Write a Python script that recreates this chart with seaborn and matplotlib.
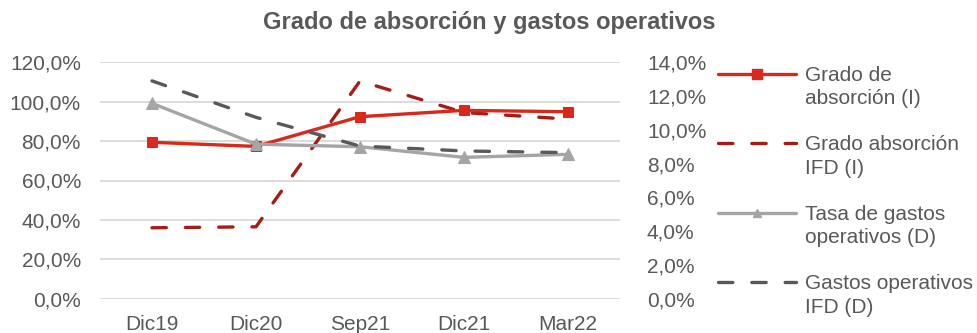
import matplotlib
matplotlib.use("Agg")
import matplotlib.pyplot as plt
from matplotlib.lines import Line2D
import seaborn as sns
import pandas as pd

# Periods on the horizontal axis
periods = ["Dic19", "Dic20", "Sep21", "Dic21", "Mar22"]

# Left axis (%)
grado_absorcion = [79.4, 77.3, 92.4, 95.6, 94.9]
grado_absorcion_ifd = [36.0, 36.5, 110.5, 94.5, 91.2]

# Right axis (%)
tasa_gastos = [11.57, 9.15, 9.0, 8.37, 8.55]
gastos_ifd = [12.9, 10.74, 9.04, 8.75, 8.65]

left_ticks = [0, 20, 40, 60, 80, 100, 120]
right_ticks = [0, 2, 4, 6, 8, 10, 12, 14]

RED = "#d9291c"
DARK_RED = "#a51d17"
GRAY = "#a5a5a5"
DARK_GRAY = "#595959"
TEXT = "#595959"

sns.set_theme(style="white")
plt.rcParams["font.family"] = ["Liberation Sans", "DejaVu Sans"]

fig = plt.figure(figsize=(9.78, 3.33), dpi=100)
ax = fig.add_axes([100 / 978, 1 - 298.7 / 333, 520 / 978, (298.7 - 62.3) / 333])
ax2 = ax.twinx()

df = pd.DataFrame({
    "periodo": periods,
    "ga": grado_absorcion,
    "ga_ifd": grado_absorcion_ifd,
    "tg": tasa_gastos,
    "tg_ifd": gastos_ifd,
})

dash = (0, (4.3, 5.7))
lw = 2.4

sns.lineplot(data=df, x="periodo", y="ga_ifd", ax=ax, sort=False, color=DARK_RED,
             linewidth=lw, linestyle=dash, dash_capstyle="round", zorder=2)
sns.lineplot(data=df, x="periodo", y="ga", ax=ax, sort=False, color=RED,
             linewidth=lw, marker="s", markersize=7.5, markeredgecolor=RED, zorder=3)
sns.lineplot(data=df, x="periodo", y="tg", ax=ax2, sort=False, color=GRAY,
             linewidth=lw, marker="^", markersize=9, markeredgecolor=GRAY, zorder=2)
sns.lineplot(data=df, x="periodo", y="tg_ifd", ax=ax2, sort=False, color=DARK_GRAY,
             linewidth=lw, linestyle=dash, dash_capstyle="round", zorder=3)

ax.set_xlim(-0.5, len(periods) - 0.5)
ax.set_ylim(0, 120)
ax2.set_ylim(0, 14)
ax.set_yticks(left_ticks)
ax.set_yticklabels([f"{v:.1f}%".replace(".", ",") for v in left_ticks])
ax2.set_yticks(right_ticks)
ax2.set_yticklabels([f"{v:.1f}%".replace(".", ",") for v in right_ticks])
ax.set_xlabel("")
ax.set_ylabel("")
ax2.set_ylabel("")

ax.grid(axis="y", color="#d9d9d9", linewidth=1.3)
ax.set_axisbelow(True)
ax2.grid(False)
for a in (ax, ax2):
    for s in a.spines.values():
        s.set_visible(False)

ax.tick_params(axis="y", length=0, pad=13.7, labelsize=15, labelcolor=TEXT)
ax.tick_params(axis="x", length=0, pad=12, labelsize=15, labelcolor=TEXT)
ax2.tick_params(axis="y", length=0, pad=19.4, labelsize=15, labelcolor=TEXT)

fig.text(0.5, 1 - 22 / 333, "Grado de absorción y gastos operativos", ha="center",
         va="center", fontsize=17, fontweight="bold", color=TEXT)

# Legend: one row per text line, blank rows between entries
blank = Line2D([], [], linestyle="none", marker=None)
h_ga = Line2D([], [], color=RED, linewidth=lw, marker="s", markersize=7.5)
h_ga_ifd = Line2D([], [], color=DARK_RED, linewidth=lw, linestyle=dash, dash_capstyle="round")
h_tg = Line2D([], [], color=GRAY, linewidth=lw, marker="^", markersize=6)
h_tg_ifd = Line2D([], [], color=DARK_GRAY, linewidth=lw, linestyle=dash, dash_capstyle="round")
handles = [h_ga, blank, blank, h_ga_ifd, blank, blank, h_tg, blank, blank, h_tg_ifd, blank]
labels = ["Grado de", "absorción (I)", " ", "Grado absorción", "IFD (I)", " ",
          "Tasa de gastos", "operativos (D)", " ", "Gastos operativos", "IFD (D)"]
leg = fig.legend(handles, labels, loc="upper left", bbox_to_anchor=(718 / 978, 1 - 66 / 333),
                 frameon=False, fontsize=15, handlelength=3.75, handletextpad=0.42,
                 labelspacing=0.2, borderpad=0, borderaxespad=0)
for t in leg.get_texts():
    t.set_color(TEXT)

fig.savefig("out.png", dpi=100)
